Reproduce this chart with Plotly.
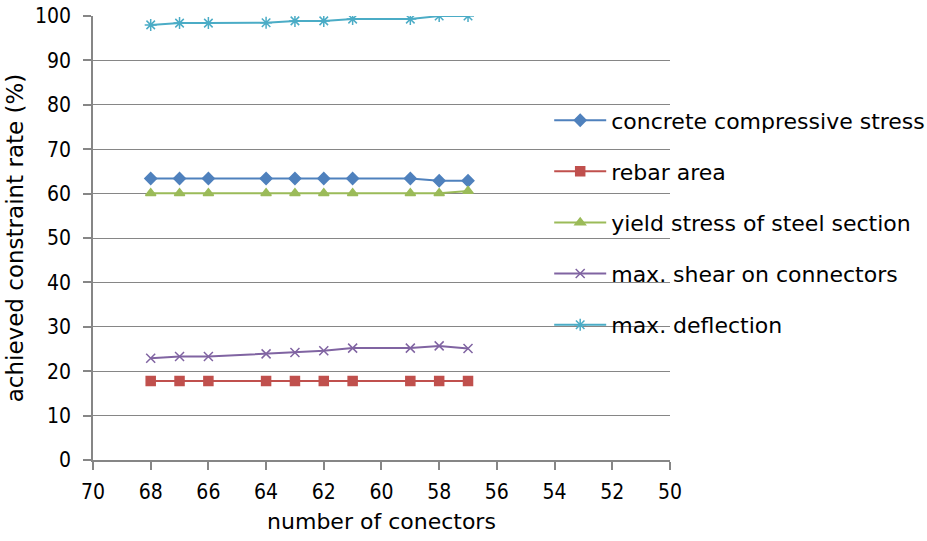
import plotly.graph_objects as go

connectors = [68, 67, 66, 64, 63, 62, 61, 59, 58, 57]
concrete = [63.4, 63.4, 63.4, 63.4, 63.4, 63.4, 63.4, 63.4, 62.9, 62.9]
rebar = [17.8, 17.8, 17.8, 17.8, 17.8, 17.8, 17.8, 17.8, 17.8, 17.8]
yield_stress = [60.1, 60.1, 60.1, 60.1, 60.1, 60.1, 60.1, 60.1, 60.1, 60.6]
shear = [22.9, 23.3, 23.3, 23.9, 24.2, 24.6, 25.2, 25.2, 25.7, 25.1]
deflection = [98.0, 98.4, 98.4, 98.5, 98.9, 98.9, 99.3, 99.3, 100.0, 100.0]

names = ["concrete compressive stress", "rebar area", "yield stress of steel section",
         "max. shear on connectors", "max. deflection"]
series = [concrete, rebar, yield_stress, shear, deflection]
colors = ["#4F81BD", "#C0504D", "#9BBB59", "#8064A2", "#4BACC6"]
symbols = ["diamond", "square", "triangle-up", "x-thin-open", "asterisk-open"]
sizes = [9, 9, 9, 9, 10]

fig = go.Figure()
for i, (n, s, c, sym, sz) in enumerate(zip(names, series, colors, symbols, sizes)):
    fig.add_trace(go.Scatter(
        x=connectors, y=s, name=n, mode="lines+markers",
        line=dict(color=c, width=2),
        marker=dict(symbol=sym, size=sz, color=c, line=dict(color=c, width=1.5)),
        legendgroup=str(i),
    ))

TICKFAM = "DejaVu Sans Condensed, DejaVu Sans, sans-serif"
FAM = "DejaVu Sans, sans-serif"
tickfnt = dict(family=TICKFAM, size=21, color="#000000")
fig.update_layout(
    width=927, height=541,
    margin=dict(l=93, r=0, t=16, b=81, autoexpand=False),
    paper_bgcolor="white", plot_bgcolor="white",
    font=dict(family=FAM, size=20, color="#000000"),
    showlegend=True,
    legend=dict(x=0.547, xanchor="left", y=0.812, yanchor="top",
                traceorder="grouped", tracegroupgap=19.5,
                font=dict(family=FAM, size=22, color="#000000"),
                itemwidth=52, bgcolor="rgba(0,0,0,0)"),
    xaxis=dict(domain=[0, 0.6918], range=[70, 50], dtick=2, tick0=50, showgrid=False,
               showline=True, linecolor="#868686", linewidth=1.5,
               ticks="outside", ticklen=8, tickcolor="#868686", tickwidth=1.5,
               tickfont=tickfnt, ticklabelstandoff=4,
               title=dict(text="number of conectors", font=dict(family=FAM, size=22, color="#000000"), standoff=11),
               zeroline=False, automargin=False),
    yaxis=dict(range=[0, 100], dtick=10, showgrid=True, gridcolor="#868686", gridwidth=1.3,
               showline=True, linecolor="#868686", linewidth=1.5,
               ticks="outside", ticklen=8, tickcolor="#868686", tickwidth=1.5,
               tickfont=tickfnt, ticklabelstandoff=8,
               title=dict(text="achieved constraint rate (%)", font=dict(family=FAM, size=23, color="#000000"), standoff=5),
               zeroline=False, automargin=False),
)
fig.write_html("out.html")
